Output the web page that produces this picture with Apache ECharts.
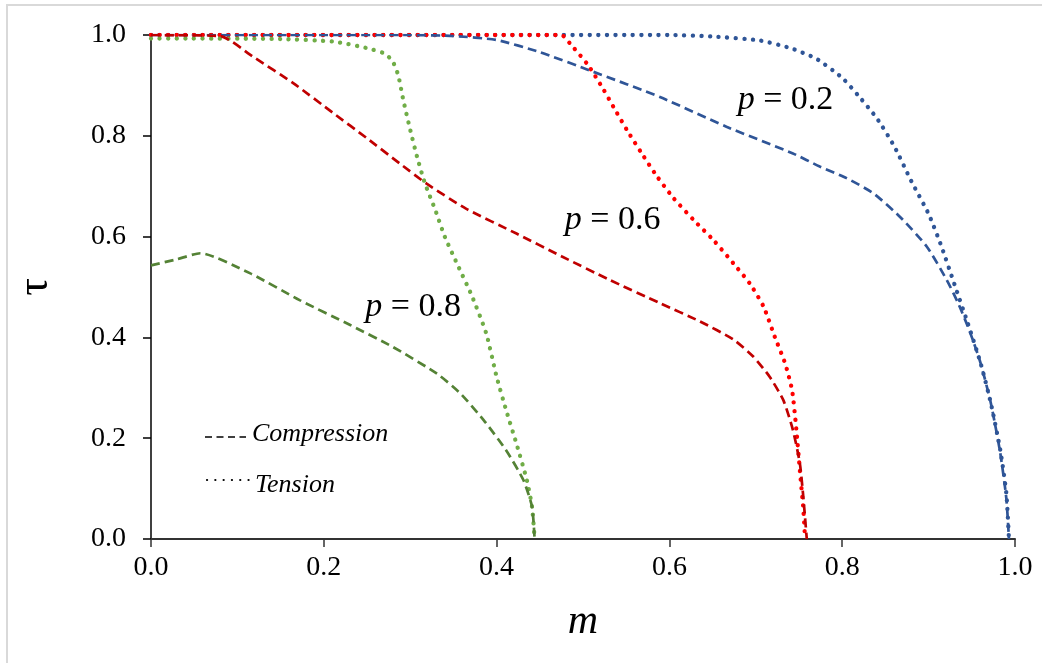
<!DOCTYPE html>
<html>
<head>
<meta charset="utf-8">
<script src="https://cdn.jsdelivr.net/npm/echarts@6/dist/echarts.min.js"></script>
<style>
  html, body { margin: 0; padding: 0; background: #ffffff; }
  #chart { width: 1042px; height: 663px; }
</style>
</head>
<body>
<div id="chart"></div>
<script>
// Interaction curves tau(m) for several p values; [m, tau] pairs.
const compressionP02 = [[0,1],[0.3,1],[0.35,0.998],[0.4,0.99],[0.45,0.966],[0.512,0.927],[0.589,0.877],[0.666,0.818],[0.743,0.765],[0.774,0.739],[0.805,0.716],[0.836,0.686],[0.867,0.639],[0.898,0.58],[0.921,0.514],[0.935,0.465],[0.948,0.41],[0.96,0.35],[0.972,0.27],[0.983,0.17],[0.99,0.08],[0.993,0]];
const tensionP02 = [[0,1],[0.6,1],[0.65,0.997],[0.705,0.989],[0.74,0.974],[0.77,0.953],[0.80,0.915],[0.82,0.877],[0.84,0.835],[0.86,0.78],[0.88,0.71],[0.90,0.645],[0.915,0.58],[0.93,0.505],[0.945,0.43],[0.96,0.35],[0.972,0.27],[0.983,0.176],[0.99,0.09],[0.993,0]];
const compressionP06 = [[0,1],[0.08,0.998],[0.118,0.957],[0.165,0.904],[0.211,0.845],[0.25,0.795],[0.288,0.745],[0.319,0.705],[0.365,0.655],[0.423,0.606],[0.475,0.561],[0.531,0.514],[0.589,0.468],[0.635,0.432],[0.674,0.396],[0.697,0.362],[0.716,0.322],[0.732,0.275],[0.743,0.216],[0.751,0.150],[0.755,0.083],[0.759,0]];
const tensionP06 = [[0,1],[0.475,1],[0.485,0.983],[0.506,0.940],[0.524,0.891],[0.535,0.858],[0.551,0.811],[0.568,0.765],[0.585,0.721],[0.605,0.676],[0.628,0.633],[0.651,0.593],[0.674,0.547],[0.693,0.507],[0.709,0.461],[0.722,0.401],[0.734,0.348],[0.742,0.295],[0.747,0.216],[0.751,0.136],[0.755,0.06],[0.757,0]];
const compressionP08 = [[0,0.543],[0.03,0.555],[0.057,0.567],[0.115,0.527],[0.172,0.474],[0.230,0.425],[0.280,0.381],[0.331,0.328],[0.358,0.289],[0.385,0.236],[0.411,0.176],[0.431,0.117],[0.441,0.064],[0.444,0]];
const tensionP08 = [[0,0.993],[0.15,0.992],[0.211,0.987],[0.250,0.974],[0.269,0.964],[0.279,0.950],[0.286,0.921],[0.292,0.871],[0.3,0.812],[0.308,0.758],[0.317,0.706],[0.329,0.653],[0.340,0.600],[0.354,0.547],[0.371,0.484],[0.388,0.408],[0.400,0.322],[0.411,0.256],[0.423,0.189],[0.435,0.117],[0.441,0.064],[0.444,0]];

// Curve labels: text and anchor in data units
const curveLabels = ['0.2', '0.6', '0.8'];
const curveLabelAnchors = [[0.679, 0.871], [0.479, 0.632], [0.248, 0.46]];

const SERIF = '"Liberation Serif", "Times New Roman", serif';
const DASH = [9, 5];
const DOT = [0.1, 8.5];

function curve(name, data, color, dash, width, cap) {
  return {
    name, type: 'line', data, smooth: 0.2, symbol: 'none',
    lineStyle: { color, width, type: dash, cap: cap || 'butt' }
  };
}

const chart = echarts.init(document.getElementById('chart'), null, { renderer: 'canvas' });

chart.setOption({
  backgroundColor: '#ffffff',
  animation: false,
  grid: { left: 151, right: 27, top: 35, bottom: 124 },
  xAxis: {
    type: 'value', min: 0, max: 1, interval: 0.2,
    name: 'm', nameLocation: 'middle', nameGap: 62,
    nameTextStyle: { fontFamily: SERIF, fontStyle: 'italic', fontSize: 42, color: '#000' },
    axisLine: { lineStyle: { color: '#333', width: 2 } },
    axisTick: { show: true, length: 8, lineStyle: { color: '#333', width: 1.5 } },
    axisLabel: { margin: 15, fontFamily: SERIF, fontSize: 28, color: '#000', formatter: v => v.toFixed(1) },
    splitLine: { show: false }
  },
  yAxis: {
    type: 'value', min: 0, max: 1, interval: 0.2,
    name: 'τ', nameLocation: 'middle', nameGap: 94, nameRotate: 90,
    nameTextStyle: { fontFamily: SERIF, fontSize: 44, color: '#000' },
    axisLine: { show: true, lineStyle: { color: '#000', width: 1.5 } },
    axisTick: { show: true, length: 8, lineStyle: { color: '#000', width: 1.5 } },
    axisLabel: { margin: 25, fontFamily: SERIF, fontSize: 28, color: '#000', formatter: v => v.toFixed(1) },
    splitLine: { show: false }
  },
  series: [
    curve('p=0.2 tension', tensionP02, '#2F5597', DOT, 4.3, 'round'),
    curve('p=0.6 tension', tensionP06, '#FF0000', DOT, 4.3, 'round'),
    curve('p=0.8 tension', tensionP08, '#70AD47', DOT, 4.3, 'round'),
    curve('p=0.2 compression', compressionP02, '#2F5597', DASH, 2.7),
    curve('p=0.6 compression', compressionP06, '#C00000', DASH, 2.7),
    curve('p=0.8 compression', compressionP08, '#548235', DASH, 2.7)
  ]
});

// Curve labels and the line-style key
const labelGraphics = curveLabels.map((v, i) => {
  const pt = chart.convertToPixel({ gridIndex: 0 }, curveLabelAnchors[i]);
  return {
    type: 'text', x: pt[0], y: pt[1],
    style: {
      text: '{p|p}{t| = ' + v + '}',
      verticalAlign: 'middle', align: 'left',
      rich: {
        p: { fontFamily: SERIF, fontStyle: 'italic', fontSize: 34, fill: '#000' },
        t: { fontFamily: SERIF, fontSize: 34, fill: '#000' }
      }
    }
  };
});

chart.setOption({
  graphic: [
    // outer frame
    { type: 'rect', shape: { x: 7, y: 5, width: 1100, height: 700 }, style: { fill: 'none', stroke: '#d9d9d9', lineWidth: 2 }, silent: true },
    ...labelGraphics,
    { type: 'line', shape: { x1: 205, y1: 437, x2: 246, y2: 437 }, style: { stroke: '#000', lineWidth: 1.3, lineDash: [7, 4.5] } },
    { type: 'text', x: 252, y: 434, style: { text: 'Compression', fontFamily: SERIF, fontStyle: 'italic', fontSize: 26, fill: '#000', verticalAlign: 'middle' } },
    { type: 'line', shape: { x1: 207, y1: 480, x2: 249, y2: 480 }, style: { stroke: '#000', lineWidth: 2.2, lineCap: 'round', lineDash: [0.1, 8.2] } },
    { type: 'text', x: 255, y: 485, style: { text: 'Tension', fontFamily: SERIF, fontStyle: 'italic', fontSize: 26, fill: '#000', verticalAlign: 'middle' } }
  ]
});
</script>
</body>
</html>
